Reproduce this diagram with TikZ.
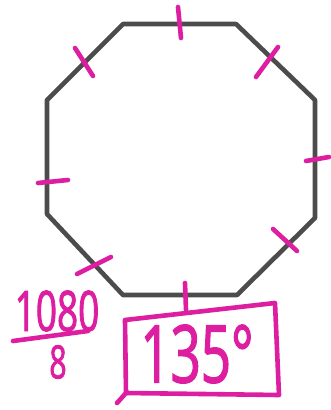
\documentclass[tikz,border=0pt]{standalone}
\usepackage{fontspec}
\newfontfamily\hand[FakeStretch=0.66,FakeBold=1.5]{Open Sans}
\definecolor{marker}{RGB}{222,30,160}

\begin{document}
\begin{tikzpicture}[x=1pt,y=-1pt,
  edge/.style={draw=black!70,line width=4.6pt,line join=round},
  tick/.style={marker,line width=4.6pt,line cap=round},
  scrawl/.style={text=marker,inner sep=0pt}]
  \useasboundingbox (0,0) rectangle (330,410);
  % octagon
  \foreach \n/\x/\y in {a/123/24,b/236/24,c/315/100,d/315/218,e/237/295,f/123/295,g/47/214,h/47/100}
    { \coordinate (\n) at (\x,\y); }
  \draw[edge] (a) -- (b) -- (c) -- (d) -- (e) -- (f) -- (g) -- (h) -- cycle;
  % tick marks on the sides
  \foreach \x/\y/\u/\v in {178/7/181/38, 278/47/256/77, 306/161/329/157, 273/229/297/251,
                           185/283/186/310, 77/274/111/257, 38/183/68/180, 75/48/93/76}
    { \draw[tick] (\x,\y) -- (\u,\v); }
  % 1080 / 8
  \node[scrawl,font=\hand\fontsize{56}{56}\selectfont] (num) at (57,311) {1080};
  \coordinate (barL) at (13,341);
  \coordinate (barR) at (88,331);
  \draw[tick] (barL) -- (barR);
  \node[scrawl,font=\hand\fontsize{46}{46}\selectfont] (den) at (58,362) {8};
  % answer box
  \node[scrawl,font=\hand\fontsize{80}{80}\selectfont] (ans) at (197,354) {135°};
  \draw[tick,line join=round] (125,320) -- (275,303) -- (279,395) -- (126,393) -- cycle;
  \draw[tick] (126,393) -- (117,403);
\end{tikzpicture}
\end{document}
